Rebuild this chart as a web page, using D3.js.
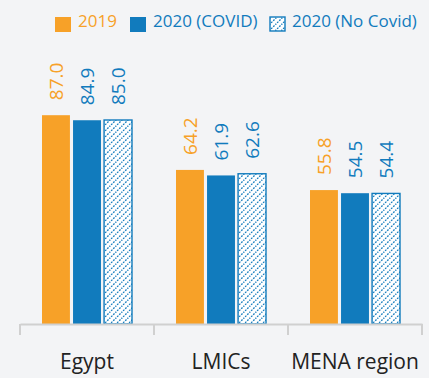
<!DOCTYPE html>
<html>
<head>
<meta charset="utf-8">
<script src="https://cdn.jsdelivr.net/npm/d3@7"></script>
<style>
  html, body { margin: 0; padding: 0; background: #f3f4f6; }
  svg { display: block; font-family: "Open Sans", "DejaVu Sans", sans-serif; }
</style>
</head>
<body>
<svg id="chart" width="429" height="378"></svg>
<script>
// Regions compared on the x axis
const categories = ["Egypt", "LMICs", "MENA region"];
// Series names and values per region
const seriesNames = ["2019", "2020 (COVID)", "2020 (No Covid)"];
const values2019 = [87.0, 64.2, 55.8];
const values2020Covid = [84.9, 61.9, 54.5];
const values2020NoCovid = [85.0, 62.6, 54.4];

const orange = "#f7a128";
const blue = "#117bbd";

const svg = d3.select("#chart");
const width = 429, height = 378;
const margin = { left: 20, right: 7, top: 84, bottom: 54 };
const baseline = height - margin.bottom;

// Hatch pattern for the counterfactual series
const defs = svg.append("defs");
const pat = defs.append("pattern")
  .attr("id", "hatch")
  .attr("patternUnits", "userSpaceOnUse")
  .attr("width", 6).attr("height", 6);
pat.append("rect").attr("width", 6).attr("height", 6).attr("fill", "#ffffff");
pat.append("path")
  .attr("d", "M-1,7 L7,-1 M-1,1 L1,-1 M5,7 L7,5")
  .attr("stroke", blue).attr("stroke-width", 1.3)
  .attr("stroke-dasharray", "1.8,1.2");

const x0 = d3.scaleBand()
  .domain(categories)
  .range([margin.left, width - margin.right])
  .paddingInner(0).paddingOuter(0);

const x1 = d3.scaleBand()
  .domain(seriesNames)
  .range([22, x0.bandwidth() - 22])
  .paddingInner(0.1);

const y = d3.scaleLinear()
  .domain([0, 100])
  .range([baseline, baseline - 240]);

const data = categories.map((c, i) => ({
  cat: c,
  vals: [
    { s: seriesNames[0], v: values2019[i] },
    { s: seriesNames[1], v: values2020Covid[i] },
    { s: seriesNames[2], v: values2020NoCovid[i] }
  ]
}));

const fills = { [seriesNames[0]]: orange, [seriesNames[1]]: blue, [seriesNames[2]]: "url(#hatch)" };
const labelColors = { [seriesNames[0]]: orange, [seriesNames[1]]: blue, [seriesNames[2]]: blue };

const groups = svg.selectAll("g.grp").data(data).enter().append("g")
  .attr("class", "grp")
  .attr("transform", d => `translate(${x0(d.cat)},0)`);

groups.selectAll("rect").data(d => d.vals).enter().append("rect")
  .attr("x", d => x1(d.s))
  .attr("y", d => y(d.v))
  .attr("width", x1.bandwidth())
  .attr("height", d => baseline - y(d.v))
  .attr("fill", d => fills[d.s])
  .attr("stroke", d => d.s === seriesNames[2] ? blue : "none")
  .attr("stroke-width", 1.4);

// Value labels, rotated above each bar
groups.selectAll("text.val").data(d => d.vals).enter().append("text")
  .attr("class", "val")
  .attr("transform", d => `translate(${x1(d.s) + x1.bandwidth() / 2},${y(d.v) - 15}) rotate(-90)`)
  .attr("dominant-baseline", "central")
  .attr("text-anchor", "start")
  .attr("font-size", 19)
  .attr("fill", d => labelColors[d.s])
  .text(d => d.v.toFixed(1));

// Category axis
const axis = svg.append("g")
  .attr("transform", `translate(0,${baseline})`)
  .call(d3.axisBottom(x0).tickSize(0).tickPadding(30));
axis.select(".domain").attr("stroke", "#d0d0d0").attr("stroke-width", 2);
axis.selectAll(".tick text").attr("font-size", 21).attr("fill", "#222").attr("font-family", "Open Sans, sans-serif");

// Group separators
const seps = categories.map(c => x0(c)).concat([x0(categories[categories.length - 1]) + x0.bandwidth()]);
svg.append("g").selectAll("line").data(seps).enter().append("line")
  .attr("x1", d => d).attr("x2", d => d)
  .attr("y1", baseline).attr("y2", baseline + 11)
  .attr("stroke", "#d0d0d0").attr("stroke-width", 2);

// Legend
const legendItems = [
  { name: seriesNames[0], x: 55, tx: 78, fill: orange, color: orange },
  { name: seriesNames[1], x: 130, tx: 153, fill: blue, color: blue },
  { name: seriesNames[2], x: 270, tx: 292, fill: "url(#hatch)", color: blue }
];
const lg = svg.append("g");
lg.selectAll("rect").data(legendItems).enter().append("rect")
  .attr("x", d => d.x).attr("y", 17)
  .attr("width", d => d.fill.startsWith("url") ? 15 : 16)
  .attr("height", d => d.fill.startsWith("url") ? 14 : 15)
  .attr("fill", d => d.fill)
  .attr("stroke", d => d.fill.startsWith("url") ? blue : "none")
  .attr("stroke-width", 1.4);
lg.selectAll("text").data(legendItems).enter().append("text")
  .attr("x", d => d.tx).attr("y", 27)
  .attr("font-size", 17)
  .attr("fill", d => d.color)
  .text(d => d.name);
</script>
</body>
</html>
